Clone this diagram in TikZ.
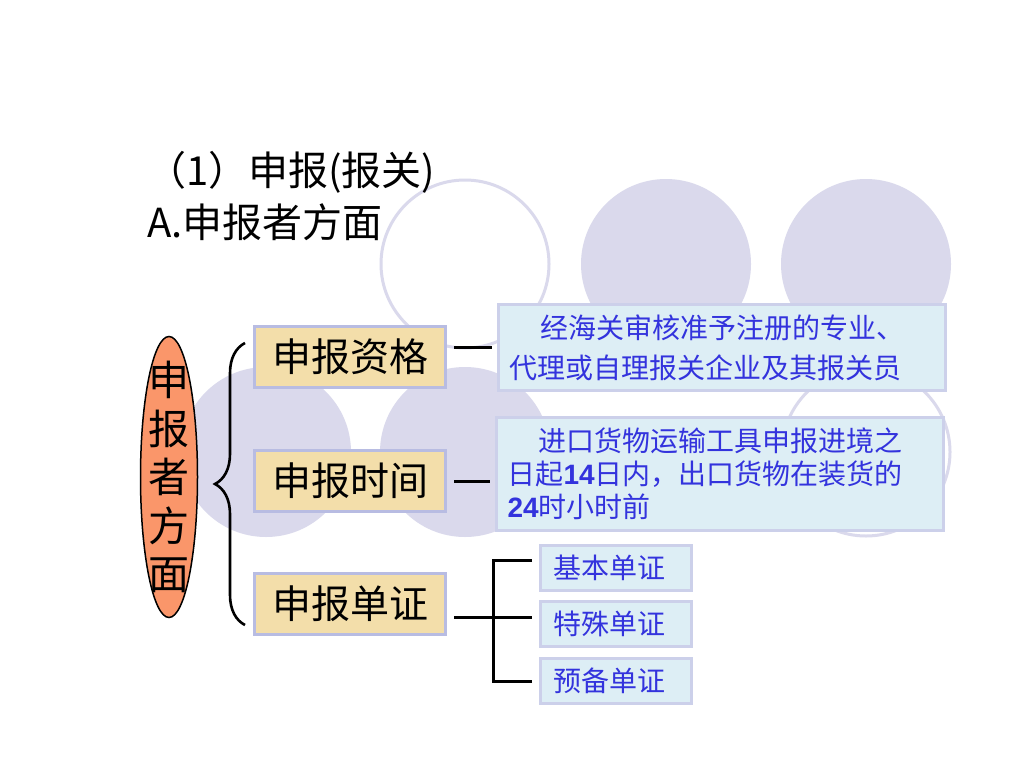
\documentclass[tikz,border=0pt]{standalone}
\usepackage{fontspec}
\setmainfont{Noto Sans CJK SC}
\newfontfamily\digitfont{Liberation Sans}
\usetikzlibrary{shapes.geometric,decorations.pathreplacing}
\definecolor{dotfill}{RGB}{218,217,236}
\definecolor{tanfill}{RGB}{243,222,170}
\definecolor{boxline}{RGB}{184,188,226}
\definecolor{infofill}{RGB}{221,238,245}
\definecolor{infoline}{RGB}{204,208,234}
\definecolor{infotext}{RGB}{51,51,221}
\definecolor{sidefill}{RGB}{250,150,106}
\begin{document}
\begin{tikzpicture}[x=1pt,y=-1pt,
  qbox/.style={draw=boxline,line width=3.5pt,fill=tanfill,minimum width=191pt,
    minimum height=61pt,inner sep=0pt,font=\fontsize{39}{39}\selectfont},
  infobox/.style={draw=infoline,line width=3pt,fill=infofill,text=infotext,
    inner xsep=11pt,inner ysep=0pt,text width=425pt,align=left},
  itembox/.style={draw=infoline,line width=3pt,fill=infofill,text=infotext,
    inner xsep=13pt,inner ysep=0pt,text width=125pt,minimum height=45pt,align=left,
    font=\fontsize{28}{28}\selectfont},
  link/.style={black,line width=3pt}]
  \fill[white] (0,0) rectangle (1024,768);
  \useasboundingbox (0,0) rectangle (1024,768);
  \foreach \cx/\cy/\kind in {465/264/0,666/264/1,866/264/1,266/452/1,465/452/1,866/452/0} {
    \ifnum\kind=1
      \fill[dotfill] (\cx,\cy) circle (85);
    \else
      \draw[dotfill,line width=3pt,fill=white] (\cx,\cy) circle (84);
    \fi}
  \node[anchor=west,inner sep=0pt,font=\fontsize{40}{40}\selectfont] (title) at (146,172) {（1）申报(报关)};
  \node[anchor=west,inner sep=0pt,font=\fontsize{40}{40}\selectfont] (subtitle) at (147,222) {A.申报者方面};
  \node[ellipse,draw=black,line width=1.5pt,fill=sidefill,minimum width=57pt,
    minimum height=281pt,inner sep=0pt] (side) at (169,477) {};
  \node[align=center,inner sep=0pt,font=\fontsize{41}{48.5}\selectfont] (sidetext) at (side.center) {申\\报\\者\\方\\面};
  \draw[decorate,decoration={brace,amplitude=30pt},line width=2.6pt] (245,625) -- (245,343);
  \foreach \n/\y/\t in {1/357/申报资格,2/481/申报时间,3/604/申报单证}
    \node[qbox] (q\n) at (350,\y) {\t};
  \node[infobox,minimum height=86pt,font=\fontsize{28}{40}\selectfont] (a1) at (721.5,347.5)
    {\hspace*{31pt}经海关审核准予注册的专业、\\代理或自理报关企业及其报关员};
  \node[infobox,minimum height=113pt,font=\fontsize{28}{33}\selectfont] (b1) at (720,473.5)
    {\hspace*{31pt}进口货物运输工具申报进境之\\日起{\digitfont\bfseries 14}日内，出口货物在装货的\\{\digitfont\bfseries 24}时小时前};
  \foreach \n/\y/\t in {1/567.5/基本单证,2/624/特殊单证,3/681/预备单证}
    \node[itembox] (c\n) at (616,\y) {\t};
  \draw[link,shorten <=7pt,shorten >=5pt] (q1.east |- a1.west) -- (a1.west);
  \draw[link,shorten <=7pt,shorten >=5pt] (q2.east) -- (q2.east -| b1.west);
  \coordinate (fork) at (493,617);
  \coordinate (tip1) at ([yshift=7pt]c1.west);
  \draw[link,shorten <=7pt,shorten >=7pt] (q3.east |- fork) -- (fork -| c2.west);
  \draw[link,shorten <=7pt] (tip1) -| (fork);
  \draw[link,shorten <=7pt] (c3.west) -| (fork);
\end{tikzpicture}
\end{document}
